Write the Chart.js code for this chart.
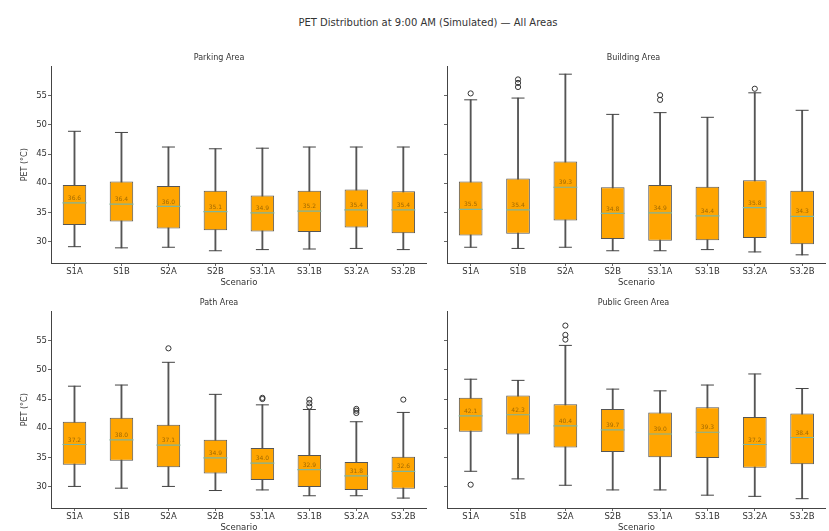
<!DOCTYPE html>
<html>
<head>
<meta charset="utf-8">
<script src="https://cdn.jsdelivr.net/npm/chart.js@4/dist/chart.umd.min.js"></script>
<style>
  html, body { margin: 0; padding: 0; background: #fff; overflow: hidden; width: 829px; height: 531px; }
  #title { position: absolute; left: 0; top: 17px; width: 856px; text-align: center;
           font: 10px "DejaVu Sans", sans-serif; color: #333; }
  canvas { position: absolute; }
</style>
</head>
<body>
<div id="title">PET Distribution at 9:00 AM (Simulated) — All Areas</div>
<canvas id="c1"></canvas>
<canvas id="c2"></canvas>
<canvas id="c3"></canvas>
<canvas id="c4"></canvas>
<script>
const scenarios = ['S1A', 'S1B', 'S2A', 'S2B', 'S3.1A', 'S3.1B', 'S3.2A', 'S3.2B'];
const yTicks = [30, 35, 40, 45, 50, 55];

// Parking Area
const parkMin = [29.1, 28.9, 29.0, 28.4, 28.6, 28.7, 28.8, 28.6];
const parkQ1  = [32.8, 33.4, 32.2, 31.9, 31.7, 31.6, 32.4, 31.4];
const parkMed = [36.6, 36.4, 36.0, 35.1, 34.9, 35.2, 35.4, 35.4];
const parkQ3  = [39.7, 40.3, 39.5, 38.7, 37.9, 38.7, 38.9, 38.6];
const parkMax = [48.9, 48.7, 46.2, 45.9, 46.0, 46.2, 46.2, 46.2];
const parkOut = [];

// Building Area
const buildMin = [29.0, 28.8, 29.0, 28.4, 28.4, 28.6, 28.2, 27.7];
const buildQ1  = [31.0, 31.3, 33.6, 30.4, 30.1, 30.2, 30.6, 29.5];
const buildMed = [35.5, 35.4, 39.3, 34.8, 34.9, 34.4, 35.8, 34.3];
const buildQ3  = [40.3, 40.8, 43.7, 39.3, 39.7, 39.4, 40.5, 38.7];
const buildMax = [54.3, 54.6, 58.7, 51.8, 52.1, 51.3, 55.5, 52.5];
const buildOut = [['S1A', 55.4], ['S1B', 56.5], ['S1B', 57.2], ['S1B', 57.8],
                  ['S3.1A', 54.3], ['S3.1A', 55.1], ['S3.2A', 56.2]];

// Path Area
const pathMin = [30.0, 29.7, 30.0, 29.3, 29.4, 28.4, 28.4, 28.0];
const pathQ1  = [33.7, 34.4, 33.3, 32.2, 31.1, 29.9, 29.4, 29.6];
const pathMed = [37.2, 38.0, 37.1, 34.9, 34.0, 32.9, 31.8, 32.6];
const pathQ3  = [41.1, 41.8, 40.6, 38.0, 36.6, 35.4, 34.2, 35.1];
const pathMax = [47.2, 47.4, 51.3, 45.8, 44.0, 43.2, 41.1, 42.7];
const pathOut = [['S2A', 53.7], ['S3.1A', 45.0], ['S3.1A', 45.2],
                 ['S3.1B', 43.7], ['S3.1B', 44.3], ['S3.1B', 44.9],
                 ['S3.2A', 42.6], ['S3.2A', 43.0], ['S3.2A', 43.3], ['S3.2B', 44.9]];

// Public Green Area
const greenMin = [32.6, 31.3, 30.2, 29.4, 29.4, 28.5, 28.3, 27.9];
const greenQ1  = [39.4, 38.9, 36.7, 35.9, 35.0, 34.9, 33.2, 33.8];
const greenMed = [42.1, 42.3, 40.4, 39.7, 39.0, 39.3, 37.2, 38.4];
const greenQ3  = [45.2, 45.6, 44.1, 43.3, 42.7, 43.6, 41.9, 42.5];
const greenMax = [48.4, 48.2, 54.2, 46.7, 46.4, 47.4, 49.3, 46.8];
const greenOut = [['S1A', 30.3], ['S2A', 55.2], ['S2A', 56.0], ['S2A', 57.6]];

const font = '"DejaVu Sans", sans-serif';

const medianLabels = {
    id: 'medianLabels',
    afterDatasetsDraw(chart) {
        const ctx = chart.ctx;
        const x = chart.scales.x, y = chart.scales.y;
        const med = chart.data.datasets[2].data;
        ctx.save();
        ctx.font = '6px ' + font;
        ctx.fillStyle = 'rgba(120, 80, 0, 0.7)';
        ctx.textAlign = 'center';
        ctx.textBaseline = 'bottom';
        med.forEach((v, i) => {
            ctx.fillText(v.toFixed(1), x.getPixelForValue(i), y.getPixelForValue(v) - 1.5);
        });
        ctx.restore();
    }
};

function makePanel(id, left, top, width, height, title, showY, mins, q1, med, q3, maxs, outs) {
    const canvas = document.getElementById(id);
    canvas.style.left = left + 'px';
    canvas.style.top = top + 'px';
    canvas.width = width;
    canvas.height = height;
    canvas.style.width = width + 'px';
    canvas.style.height = height + 'px';

    new Chart(canvas, {
        type: 'bar',
        data: {
            labels: scenarios,
            datasets: [
                {
                    data: mins.map((v, i) => [v, maxs[i]]),
                    backgroundColor: '#555',
                    barThickness: 1.2,
                    grouped: false,
                    order: 3
                },
                {
                    data: q1.map((v, i) => [v, q3[i]]),
                    backgroundColor: '#FFA500',
                    borderColor: '#555',
                    borderWidth: 1,
                    borderSkipped: false,
                    barPercentage: 0.5,
                    categoryPercentage: 1,
                    grouped: false,
                    order: 2
                },
                {
                    type: 'line',
                    data: med,
                    showLine: false,
                    pointStyle: 'line',
                    pointRadius: 12,
                    pointBorderColor: '#7fb59a',
                    pointBorderWidth: 1.2,
                    order: 1
                },
                {
                    type: 'line',
                    data: maxs,
                    showLine: false,
                    pointStyle: 'line',
                    pointRadius: 6.5,
                    pointBorderColor: '#444',
                    pointBorderWidth: 1,
                    order: 1
                },
                {
                    type: 'line',
                    data: mins,
                    showLine: false,
                    pointStyle: 'line',
                    pointRadius: 6.5,
                    pointBorderColor: '#444',
                    pointBorderWidth: 1,
                    order: 1
                },
                {
                    type: 'line',
                    data: outs.map(o => ({x: o[0], y: o[1]})),
                    showLine: false,
                    pointStyle: 'circle',
                    pointRadius: 2.6,
                    pointBackgroundColor: 'rgba(0,0,0,0)',
                    pointBorderColor: '#333',
                    pointBorderWidth: 1,
                    order: 0
                }
            ]
        },
        options: {
            animation: false,
            responsive: false,
            layout: {padding: {left: 0, right: 2, top: 0, bottom: 0}},
            plugins: {
                legend: {display: false},
                tooltip: {enabled: false},
                title: {
                    display: true,
                    text: title,
                    color: '#333',
                    font: {family: font, size: 8, weight: 'normal'},
                    padding: {top: 8, bottom: 4}
                }
            },
            scales: {
                x: {
                    offset: true,
                    grid: {display: true, drawOnChartArea: false, offset: false, tickLength: 3, color: '#666'},
                    border: {display: true, color: '#444', width: 1},
                    ticks: {color: '#333', font: {family: font, size: 8.5}, padding: 1, maxRotation: 0, autoSkip: false},
                    title: {display: true, text: 'Scenario', color: '#333',
                            font: {family: font, size: 8.5}, padding: {top: 0, bottom: 2}},
                    afterFit: s => { s.height = 27; }
                },
                y: {
                    min: 26.3,
                    max: 60,
                    afterBuildTicks: s => { s.ticks = yTicks.map(v => ({value: v})); },
                    grid: {display: true, drawOnChartArea: false, tickLength: 3, color: '#666'},
                    border: {display: true, color: '#444', width: 1},
                    ticks: {
                        color: '#333',
                        font: {family: font, size: 8.5},
                        padding: 1,
                        callback: v => showY ? v : ''
                    },
                    title: {display: showY, text: 'PET (°C)', color: '#333',
                            font: {family: font, size: 8}, padding: {top: 20, bottom: 0}},
                    afterFit: s => { s.width = showY ? 51 : 17; }
                }
            }
        },
        plugins: [medianLabels]
    });
}

makePanel('c1', 0, 45, 440, 245, 'Parking Area', true, parkMin, parkQ1, parkMed, parkQ3, parkMax, parkOut);
makePanel('c2', 430, 45, 409, 245, 'Building Area', false, buildMin, buildQ1, buildMed, buildQ3, buildMax, buildOut);
makePanel('c3', 0, 290, 440, 245, 'Path Area', true, pathMin, pathQ1, pathMed, pathQ3, pathMax, pathOut);
makePanel('c4', 430, 290, 409, 245, 'Public Green Area', false, greenMin, greenQ1, greenMed, greenQ3, greenMax, greenOut);
</script>
</body>
</html>
